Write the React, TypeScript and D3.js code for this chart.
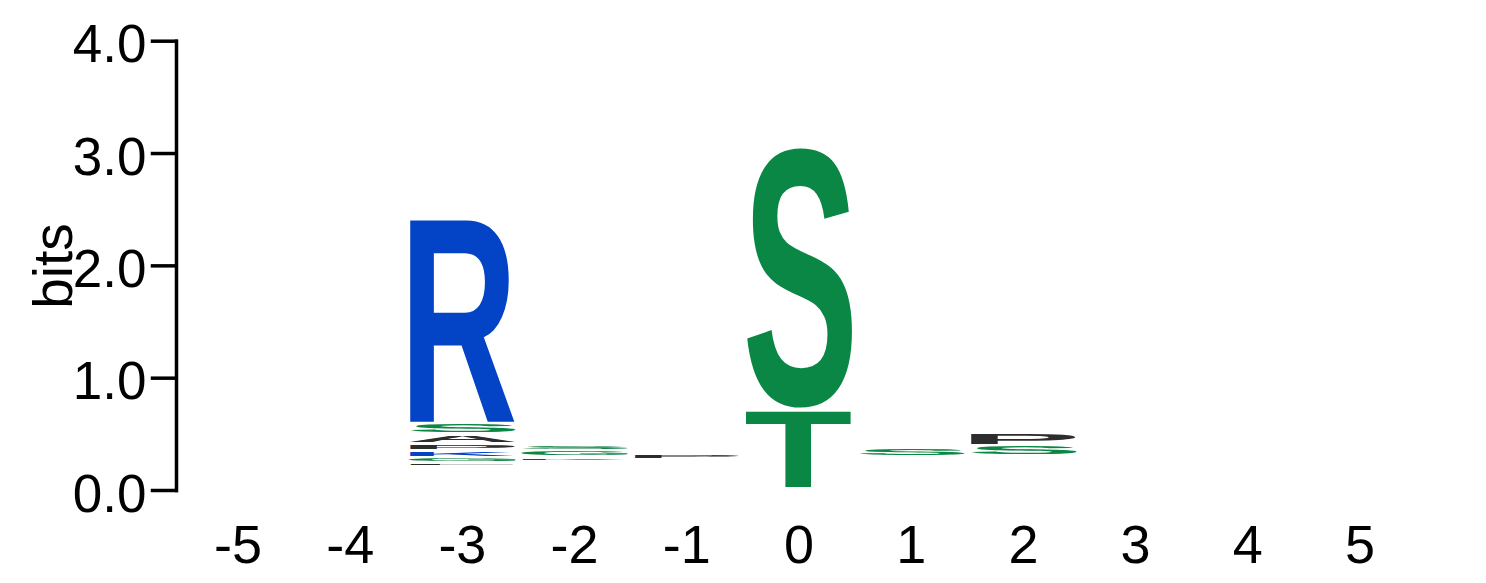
import React, { useEffect, useRef } from "react";
import * as d3 from "d3";

// Sequence positions (x axis) and y ticks
const positions = [-5, -4, -3, -2, -1, 0, 1, 2, 3, 4, 5];
const yTicks = [0, 1, 2, 3, 4];

// Sum of letters too small to be drawn at the bottom of each stack (bits)
const hiddenBits = [0, 0, 0.21, 0.255, 0.267, 0, 0.285, 0.29, 0, 0, 0];

// Visible letters per position, bottom to top: [residue, bits]
const colM5: [string, number][] = [];
const colM4: [string, number][] = [];
const colM3: [string, number][] = [
  ["L", 0.031], ["G", 0.036], ["K", 0.065], ["P", 0.06], ["A", 0.083], ["S", 0.095], ["R", 1.825],
];
const colM2: [string, number][] = [["K", 0.025], ["G", 0.06], ["S", 0.042]];
const colM1: [string, number][] = [["P", 0.04]];
const col0: [string, number][] = [["T", 0.706], ["S", 2.339]];
const col1: [string, number][] = [["S", 0.08]];
const col2: [string, number][] = [["S", 0.093], ["P", 0.122]];
const col3: [string, number][] = [];
const col4: [string, number][] = [];
const col5: [string, number][] = [];
const stacks = [colM5, colM4, colM3, colM2, colM1, col0, col1, col2, col3, col4, col5];

const polar = "GSTYCNQ";
const basic = "KRH";
const acidic = "DE";
const colorOf = (aa: string) =>
  polar.includes(aa) ? "#0A8745" : basic.includes(aa) ? "#0344C6" : acidic.includes(aa) ? "#D0021B" : "#2D2D2D";

const FONT = "'Liberation Sans', Arial, Helvetica, sans-serif";

export default function App() {
  const ref = useRef<SVGSVGElement>(null);
  useEffect(() => {
    const draw = () => {
      const svg = d3.select(ref.current);
      svg.selectAll("*").remove();

      const y = d3.scaleLinear().domain([0, 4]).range([490, 40.7]);
      const step = 112.2;
      const x = d3
        .scaleBand<number>()
        .domain(positions)
        .range([238 - step / 2, 238 + step * (positions.length - 0.5)])
        .padding(0);

      // Y axis
      const axis = d3
        .axisLeft(y)
        .tickValues(yTicks)
        .tickFormat(d3.format(".1f"))
        .tickSizeInner(23.5)
        .tickSizeOuter(0)
        .tickPadding(6);
      const g = svg.append("g").attr("transform", "translate(176,0)").call(axis as any);
      g.selectAll("path, line")
        .attr("stroke", "#000")
        .attr("stroke-width", 3.5)
        .attr("stroke-linecap", "square");
      g.selectAll("text")
        .attr("font-family", FONT)
        .attr("font-size", 53)
        .attr("fill", "#000")
        .attr("dy", "0.4em");

      // Y label
      svg
        .append("text")
        .attr("transform", "translate(72,266) rotate(-90)")
        .attr("text-anchor", "middle")
        .attr("font-family", FONT)
        .attr("font-size", 55)
        .attr("fill", "#000")
        .text("bits");

      // X labels
      svg
        .append("g")
        .selectAll("text")
        .data(positions)
        .join("text")
        .attr("x", (d) => (x(d) as number) + x.bandwidth() / 2)
        .attr("y", 563)
        .attr("text-anchor", "middle")
        .attr("font-family", FONT)
        .attr("font-size", 54)
        .attr("fill", "#000")
        .text((d) => String(d));

      // glyph metrics
      const canvas = document.createElement("canvas");
      const ctx = canvas.getContext("2d")!;
      ctx.font = `bold 100px ${FONT}`;
      const metrics: Record<string, { L: number; R: number; A: number; D: number }> = {};
      const getM = (c: string) => {
        if (!metrics[c]) {
          const m = ctx.measureText(c);
          metrics[c] = {
            L: m.actualBoundingBoxLeft,
            R: m.actualBoundingBoxRight,
            A: m.actualBoundingBoxAscent,
            D: m.actualBoundingBoxDescent,
          };
        }
        return metrics[c];
      };

      const letters = svg.append("g");
      stacks.forEach((stack, i) => {
        const pos = positions[i];
        const cx = (x(pos) as number) + x.bandwidth() / 2;
        const w = x.bandwidth() * 0.95;
        let cum = hiddenBits[i];
        stack.forEach(([aa, bits]) => {
          const boxBottom = y(cum);
          const boxTop = y(cum + bits);
          cum += bits;
          const boxH = boxBottom - boxTop;
          const inkH = Math.max(boxH - 3, boxH * 0.5);
          const inkBottom = boxTop + inkH;
          const m = getM(aa);
          const sx = w / (m.L + m.R);
          const sy = inkH / (m.A + m.D);
          letters
            .append("text")
            .attr(
              "transform",
              `translate(${cx - w / 2},${inkBottom}) scale(${sx},${sy}) translate(${m.L},${-m.D})`
            )
            .attr("font-family", FONT)
            .attr("font-weight", "bold")
            .attr("font-size", 100)
            .attr("fill", colorOf(aa))
            .text(aa);
        });
      });
    };
    const fonts = (document as any).fonts;
    if (fonts && fonts.ready) fonts.ready.then(draw);
    else draw();
  }, []);
  return (
    <svg
      ref={ref}
      width={1486}
      height={583}
      style={{ position: "absolute", left: 0, top: 0, background: "#fff" }}
    />
  );
}
